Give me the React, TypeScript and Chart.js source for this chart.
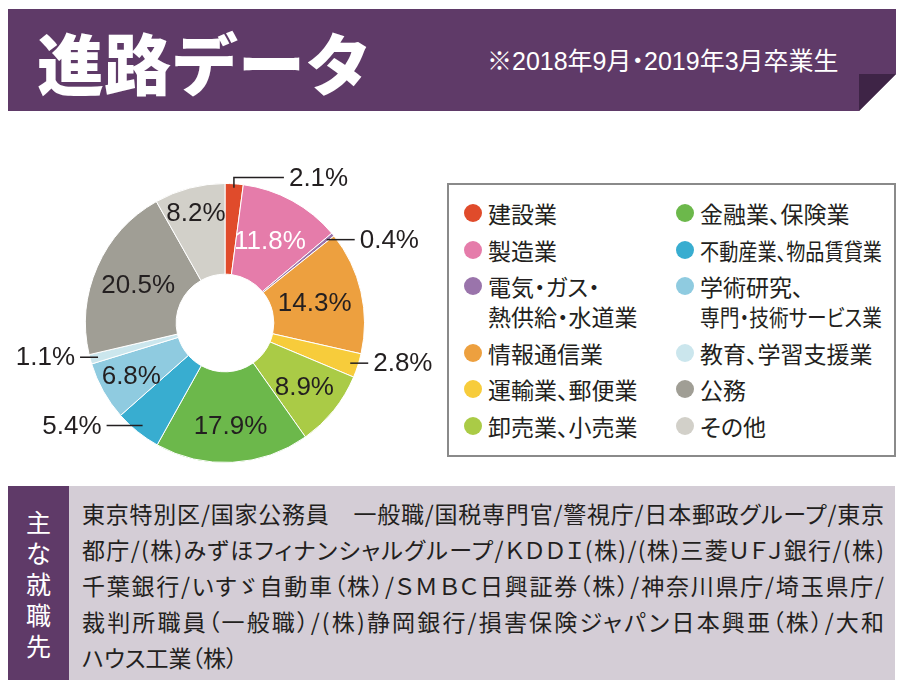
import React, { useEffect, useLayoutEffect, useRef } from 'react';
import { Chart, registerables } from 'chart.js';

Chart.register(...registerables);

// ---- data ----
const titleText = '進路データ';
const subtitleText = '※2018年9月・2019年3月卒業生';
const categories = [
  '建設業',
  '製造業',
  '電気・ガス・\n熱供給・水道業',
  '情報通信業',
  '運輸業、郵便業',
  '卸売業、小売業',
  '金融業、保険業',
  '不動産業、物品賃貸業',
  '学術研究、\n専門・技術サービス業',
  '教育、学習支援業',
  '公務',
  'その他',
];
const shares = [2.1, 11.8, 0.4, 14.3, 2.8, 8.9, 17.9, 5.4, 6.8, 1.1, 20.5, 8.2];
const percentLabels = ['2.1%', '11.8%', '0.4%', '14.3%', '2.8%', '8.9%', '17.9%', '5.4%', '6.8%', '1.1%', '20.5%', '8.2%'];
const employersHeading = '主な就職先';
const employerLines = [
  '東京特別区/国家公務員　一般職/国税専門官/警視庁/日本郵政グループ/東京',
  '都庁/(株)みずほフィナンシャルグループ/ＫＤＤＩ(株)/(株)三菱ＵＦＪ銀行/(株)',
  '千葉銀行/いすゞ自動車（株）/ＳＭＢＣ日興証券（株）/神奈川県庁/埼玉県庁/',
  '裁判所職員（一般職）/(株)静岡銀行/損害保険ジャパン日本興亜（株）/大和',
  'ハウス工業（株）',
];

// ---- styles ----
const sliceColors = ['#e04b2b', '#e57caa', '#9a74ab', '#eda03f', '#f7cc3b', '#aacb46', '#6cb84b', '#38add0', '#8fcbe0', '#cbe6ed', '#a09e95', '#d2d0c9'];
const purple = '#5f3a68';
const JP = '"Noto Sans CJK JP", "Noto Sans", sans-serif';
const NUM = '"Liberation Sans", Arial, sans-serif';
type LabelStyle = { mode: 'in'; r: number; color?: string } | { mode: 'out'; side: 1 | -1; len: number; elbow?: boolean };
const labelStyles: LabelStyle[] = [
  { mode: 'out', side: 1, len: 50, elbow: true },
  { mode: 'in', r: 0.67, color: '#ffffff' },
  { mode: 'out', side: 1, len: 28 },
  { mode: 'in', r: 0.66 },
  { mode: 'out', side: 1, len: 18 },
  { mode: 'in', r: 0.73 },
  { mode: 'in', r: 0.74 },
  { mode: 'out', side: -1, len: 36 },
  { mode: 'in', r: 0.77 },
  { mode: 'out', side: -1, len: 18 },
  { mode: 'in', r: 0.68 },
  { mode: 'in', r: 0.82 },
];

const labelPlugin = {
  id: 'sliceLabels',
  afterDatasetsDraw(chart: any) {
    const ctx = chart.ctx as CanvasRenderingContext2D;
    const meta = chart.getDatasetMeta(0);
    ctx.save();
    ctx.font = `26px ${NUM}`;
    ctx.textBaseline = 'middle';
    meta.data.forEach((arc: any, i: number) => {
      const p = arc.getProps(['x', 'y', 'startAngle', 'endAngle', 'innerRadius', 'outerRadius'], true);
      const mid = (p.startAngle + p.endAngle) / 2;
      const st = labelStyles[i];
      const text = percentLabels[i];
      if (st.mode === 'in') {
        const r = p.outerRadius * st.r;
        ctx.fillStyle = st.color || '#231f20';
        ctx.textAlign = 'center';
        ctx.fillText(text, p.x + Math.cos(mid) * r, p.y + Math.sin(mid) * r + 1);
      } else {
        const r0 = p.outerRadius - (st.elbow ? 4 : 8);
        const sx = p.x + Math.cos(mid) * r0;
        let sy = p.y + Math.sin(mid) * r0;
        ctx.strokeStyle = '#231f20';
        ctx.lineWidth = 1.5;
        ctx.beginPath();
        ctx.moveTo(sx, sy);
        if (st.elbow) {
          sy = p.y - p.outerRadius - 6;
          ctx.lineTo(sx, sy);
        }
        const ex = sx + st.side * st.len;
        ctx.lineTo(ex, sy);
        ctx.stroke();
        ctx.fillStyle = '#231f20';
        ctx.textAlign = st.side > 0 ? 'left' : 'right';
        ctx.fillText(text, ex + st.side * 5, sy + 1);
      }
    });
    ctx.restore();
  },
};

function Doughnut() {
  const ref = useRef<HTMLCanvasElement | null>(null);
  useEffect(() => {
    if (!ref.current) return;
    const chart = new Chart(ref.current, {
      type: 'doughnut',
      data: {
        labels: categories,
        datasets: [
          {
            data: shares,
            backgroundColor: sliceColors,
            borderColor: '#ffffff',
            borderWidth: 1,
          },
        ],
      },
      options: {
        responsive: false,
        maintainAspectRatio: false,
        animation: false,
        cutout: '35%',
        layout: { padding: { left: 85, right: 75, top: 33, bottom: 17 } },
        plugins: { legend: { display: false }, tooltip: { enabled: false } },
      },
      plugins: [labelPlugin],
    });
    return () => chart.destroy();
  }, []);
  return <canvas ref={ref} width={440} height={330} style={{ position: 'absolute', left: 0, top: 150, width: 440, height: 330 }} />;
}

function Legend() {
  const lineRefs = useRef<(HTMLSpanElement | null)[]>([]);
  useLayoutEffect(() => {
    const maxW = 182;
    lineRefs.current.forEach((el) => {
      if (!el) return;
      el.style.transform = 'none';
      const w = el.getBoundingClientRect().width;
      if (w > maxW) el.style.transform = `scaleX(${maxW / w})`;
    });
  }, []);
  let li = 0;
  const col = (start: number) =>
    categories.slice(start, start + 6).map((c, k) => {
      const i = start + k;
      return (
        <div key={i} style={{ position: 'relative', paddingLeft: 40, marginBottom: 6.5 }}>
          <span
            style={{
              position: 'absolute',
              left: 16,
              top: 6,
              width: 18,
              height: 18,
              borderRadius: 9,
              background: sliceColors[i],
            }}
          />
          {c.split('\n').map((ln, j) => {
            const idx = li++;
            return (
              <div key={j} style={{ height: 30, lineHeight: '30px', whiteSpace: 'nowrap' }}>
                <span
                  ref={(el) => {
                    lineRefs.current[idx] = el;
                  }}
                  style={{ display: 'inline-block', transformOrigin: 'left center' }}
                >
                  {ln}
                </span>
              </div>
            );
          })}
        </div>
      );
    });
  return (
    <div
      style={{
        position: 'absolute',
        left: 447,
        top: 183,
        width: 445,
        height: 270,
        border: '2px solid #8a8a8a',
        background: '#fff',
        fontFamily: JP,
        fontSize: 23,
        fontFeatureSettings: '"palt"',
        color: '#231f20',
        boxSizing: 'content-box',
      }}
    >
      <div style={{ position: 'absolute', left: -1, top: 13 }}>{col(0)}</div>
      <div style={{ position: 'absolute', left: 211, top: 13 }}>{col(6)}</div>
    </div>
  );
}

function Employers() {
  const refs = useRef<(HTMLSpanElement | null)[]>([]);
  useLayoutEffect(() => {
    const target = 802;
    refs.current.forEach((el, i) => {
      if (!el || i === employerLines.length - 1) return;
      el.style.letterSpacing = '0px';
      const w = el.getBoundingClientRect().width;
      const n = Array.from(employerLines[i]).length;
      el.style.letterSpacing = `${(target - w) / (n - 1)}px`;
    });
  }, []);
  return (
    <>
      <div style={{ position: 'absolute', left: 8, top: 486, width: 887, height: 194, background: '#d4cdd6' }} />
      <div style={{ position: 'absolute', left: 8, top: 486, width: 61, height: 194, background: purple }} />
      <div
        style={{
          position: 'absolute',
          left: 8,
          top: 486,
          width: 61,
          height: 194,
          display: 'flex',
          flexDirection: 'column',
          alignItems: 'center',
          justifyContent: 'center',
          fontFamily: JP,
          fontSize: 25,
          color: '#fff',
        }}
      >
        {Array.from(employersHeading).map((ch, i) => (
          <div key={i} style={{ height: 31, lineHeight: '31px' }}>
            {ch}
          </div>
        ))}
      </div>
      <div
        style={{
          position: 'absolute',
          left: 82,
          top: 495,
          fontFamily: JP,
          fontSize: 23,
          fontFeatureSettings: '"palt"',
          color: '#231f20',
        }}
      >
        {employerLines.map((ln, i) => (
          <div key={i} style={{ height: 36, lineHeight: '36px', whiteSpace: 'nowrap' }}>
            <span
              ref={(el) => {
                refs.current[i] = el;
              }}
            >
              {ln}
            </span>
          </div>
        ))}
      </div>
    </>
  );
}

function Header() {
  return (
    <>
      <svg width={906} height={120} style={{ position: 'absolute', left: 0, top: 0 }}>
        <polygon points="8,9 896,9 896,74 859,111 8,111" fill={purple} />
        <polygon points="859,74 896,74 859,111" fill="#3e2446" />
      </svg>
      <div
        style={{
          position: 'absolute',
          left: 37,
          top: 25,
          fontFamily: JP,
          fontWeight: 900,
          fontSize: 67,
          lineHeight: '72px',
          color: '#fff',
          whiteSpace: 'nowrap',
        }}
      >
        {titleText}
      </div>
      <div
        style={{
          position: 'absolute',
          left: 487,
          top: 45,
          fontFamily: `"Liberation Sans", ${JP}`,
          fontFeatureSettings: '"palt"',
          fontSize: 25,
          lineHeight: '32px',
          color: '#fff',
          whiteSpace: 'nowrap',
        }}
      >
        {subtitleText}
      </div>
    </>
  );
}

export default function App() {
  return (
    <div style={{ position: 'absolute', left: 0, top: 0, width: 906, height: 690, background: '#fff', overflow: 'hidden' }}>
      <Header />
      <Doughnut />
      <Legend />
      <Employers />
    </div>
  );
}
